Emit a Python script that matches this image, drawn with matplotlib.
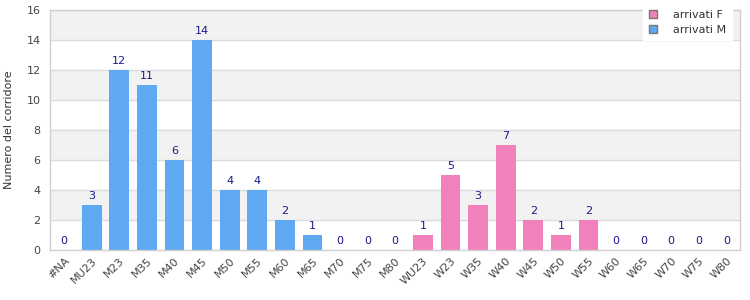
import matplotlib
matplotlib.use('Agg')
import matplotlib.pyplot as plt
import numpy as np
from matplotlib.patches import Patch

categorie = ['#NA', 'MU23', 'M23', 'M35', 'M40', 'M45', 'M50', 'M55', 'M60', 'M65',
             'M70', 'M75', 'M80', 'WU23', 'W23', 'W35', 'W40', 'W45', 'W50', 'W55',
             'W60', 'W65', 'W70', 'W75', 'W80']
arrivati_M = [0, 3, 12, 11, 6, 14, 4, 4, 2, 1, 0, 0, 0, 0, 0, 0, 0, 0, 0, 0, 0, 0, 0, 0, 0]
arrivati_F = [0, 0, 0, 0, 0, 0, 0, 0, 0, 0, 0, 0, 0, 1, 5, 3, 7, 2, 1, 2, 0, 0, 0, 0, 0]

col_M = '#5fa8f2'
col_F = '#f281bb'
fs = 8

plt.rcParams['font.family'] = ['DejaVu Sans']
fig = plt.figure(figsize=(7.5, 3), dpi=100, facecolor='white')
fig.subplots_adjust(left=0.067, right=0.987, bottom=0.167, top=0.967)
ax = fig.add_subplot(1, 1, 1)

x = np.arange(len(categorie))
# bande orizzontali alternate
for y0 in range(2, 16, 4):
    ax.axhspan(y0, y0 + 2, color='#f2f2f2', zorder=0)
for y0 in range(2, 17, 2):
    ax.axhline(y0, color='#dcdcdc', linewidth=1, zorder=0.5)

ax.bar(x, arrivati_M, width=0.72, color=col_M, zorder=2)
ax.bar(x, arrivati_F, width=0.72, color=col_F, zorder=2)

for i in range(len(categorie)):
    v = arrivati_M[i] + arrivati_F[i]
    ax.text(x[i], v + 0.25, str(v), ha='center', va='bottom', fontsize=fs, color='#1a1a8c', zorder=3)

ax.set_xlim(-0.5, len(categorie) - 0.5)
ax.set_ylim(0, 16)
ax.set_yticks(range(0, 17, 2))
ax.set_xticks(x)
ax.set_xticklabels(categorie, rotation=45, ha='right', rotation_mode='anchor')
ax.tick_params(axis='both', labelsize=fs, colors='#444444', length=0, pad=4)
ax.tick_params(axis='y', pad=7)
ax.set_ylabel('Numero del corridore', fontsize=fs, color='#333333', labelpad=9)

for s in ax.spines.values():
    s.set_color('#d0d0d0')
    s.set_linewidth(1)

handles = [Patch(facecolor=col_F, edgecolor='#777777', label='arrivati F'),
           Patch(facecolor=col_M, edgecolor='#777777', label='arrivati M')]
leg = fig.legend(handles=handles, loc='upper right', bbox_to_anchor=(0.983, 1.005),
                 fontsize=fs, frameon=True, fancybox=False, framealpha=1,
                 handlelength=0.8, handleheight=0.8, handletextpad=1.4,
                 labelspacing=0.45, borderpad=0.5)
leg.get_frame().set_edgecolor('white')
for t in leg.get_texts():
    t.set_color('#333333')

plt.savefig('out.png', dpi=100)
